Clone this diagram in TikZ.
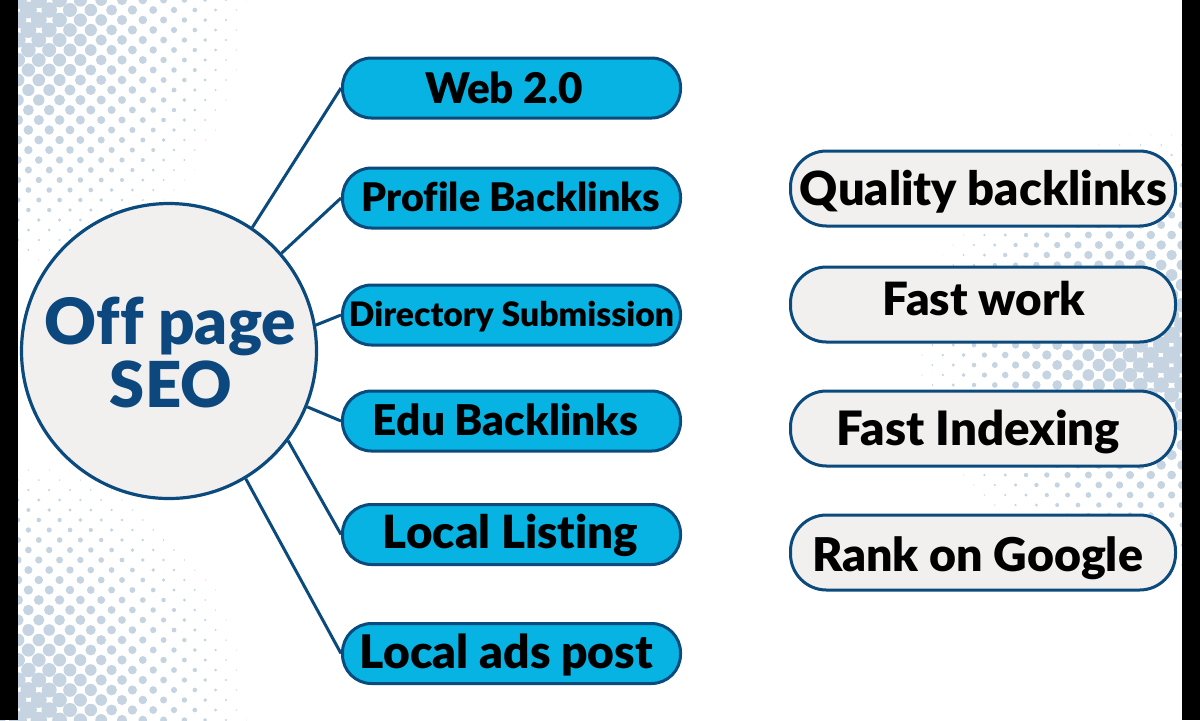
\documentclass[tikz,border=0pt]{standalone}
\usepackage{fontspec}
\setmainfont{Lato}[BoldFont={Lato Black}, Ligatures={NoCommon,NoRare,NoDiscretionary}]
\usepackage{graphicx}
\definecolor{edge}{HTML}{0B4A7C}
\definecolor{cyanbox}{HTML}{07B3E3}
\definecolor{grayfill}{HTML}{F1F0EF}
\definecolor{dotc}{HTML}{C5D4E0}
\definecolor{hubtext}{HTML}{0C477D}
\newcommand{\fw}[2]{\resizebox{#1}{!}{#2}}
\begin{document}
\begin{tikzpicture}[x=0.5pt,y=-0.5pt,
  bluebox/.style={draw=edge, line width=1.5pt, fill=cyanbox, rounded corners=14.5pt, minimum width=169pt, minimum height=30pt, inner sep=0pt},
  graybox/.style={draw=edge, line width=1.5pt, fill=grayfill, rounded corners=18pt, minimum width=192.5pt, minimum height=37.5pt, inner sep=0pt},
  hubstyle/.style={circle, draw=edge, line width=1.6pt, fill=grayfill, minimum size=147.5pt, inner sep=0pt},
  lbl/.style={anchor=base, inner sep=0pt, font=\bfseries, text=black},
  hublbl/.style={anchor=base, inner sep=0pt, font=\bfseries, text=hubtext},
  link/.style={draw=edge, line width=1.5pt}]
\useasboundingbox (0,0) rectangle (1200,720);
\fill[white] (0,0) rectangle (1200,720);
% halftone top-left
\foreach \r in {0,...,30}{
  \foreach \c in {-1,...,13}{
    \pgfmathsetmacro\xx{18+\c*20.8+mod(\r,2)*10.4}
    \pgfmathsetmacro\yy{\r*10}
    \pgfmathsetmacro\dd{sqrt(((\xx-18)/240)^2+(\yy/280)^2)}
    \pgfmathsetmacro\rr{9*(1-\dd)}
    \ifdim\rr pt>0.4pt \fill[dotc] (\xx,\yy) circle[radius=\rr];\fi
  }}
% halftone bottom-left
\foreach \r in {0,...,30}{
  \foreach \c in {-1,...,13}{
    \pgfmathsetmacro\xx{18+\c*20.8+mod(\r,2)*10.4}
    \pgfmathsetmacro\yy{720-\r*10}
    \pgfmathsetmacro\dd{sqrt(((\xx-18)/240)^2+((720-\yy)/270)^2)}
    \pgfmathsetmacro\rr{9*(1-\dd)}
    \ifdim\rr pt>0.4pt \fill[dotc] (\xx,\yy) circle[radius=\rr];\fi
  }}
% halftone right
\foreach \r in {0,...,50}{
  \foreach \c in {-1,...,15}{
    \pgfmathsetmacro\xx{1182-\c*20.8-mod(\r,2)*10.4}
    \pgfmathsetmacro\yy{355+(\r-25)*10}
    \pgfmathsetmacro\dd{sqrt(((1182-\xx)/280)^2+((\yy-355)/235)^2)}
    \pgfmathsetmacro\rr{9*(1-\dd)}
    \ifdim\rr pt>0.4pt \fill[dotc] (\xx,\yy) circle[radius=\rr];\fi
  }}
% hub
\node[hubstyle] (hub) at (169,351) {};
% left boxes
\node[bluebox] (web) at (511.5,88) {};
\node[bluebox] (profile) at (511.5,198) {};
\node[bluebox] (dir) at (511.5,315) {};
\node[bluebox] (edu) at (511.5,421) {};
\node[bluebox] (listing) at (511.5,534.5) {};
\node[bluebox] (ads) at (511.5,653.5) {};
% right boxes
\node[graybox] (quality) at (983,188.5) {};
\node[graybox] (fast) at (983,304.5) {};
\node[graybox] (index) at (983,428.5) {};
\node[graybox] (rank) at (983,552.5) {};
% connectors
\draw[link] (hub.56.4) -- (web.west);
\draw[link] (hub.41.8) -- (profile.west);
\draw[link] (hub.10.4) -- (dir.west);
\draw[link] (hub.-22) -- (edu.west);
\draw[link] (hub.-37.8) -- (listing.west);
\draw[link] (hub.-59.9) -- (ads.west);
% labels
\node[hublbl] (t1) at (170.5,344) {\fw{125.5pt}{Off page}};
\node[hublbl] (t2) at (171,407) {\fw{61pt}{SEO}};
\node[lbl] (lweb) at (504,103) {\fw{79pt}{Web 2.0}};
\node[lbl] (lprofile) at (511,211) {\fw{149pt}{Profile Backlinks}};
\node[lbl] (ldir) at (511.5,326) {\fw{162.5pt}{Directory Submission}};
\node[lbl] (ledu) at (505.5,435) {\fw{132.5pt}{Edu Backlinks}};
\node[lbl] (llisting) at (510.5,548) {\fw{127.5pt}{Local Listing}};
\node[lbl] (lads) at (506.5,668) {\fw{146.5pt}{Local ads post}};
\node[lbl] (lquality) at (983.5,205) {\fw{183.5pt}{Quality backlinks}};
\node[lbl] (lfast) at (984,315) {\fw{101pt}{Fast work}};
\node[lbl] (lindex) at (978.5,445) {\fw{141.5pt}{Fast Indexing}};
\node[lbl] (lrank) at (977.5,571) {\fw{165.5pt}{Rank on Google}};
% black side bars
\fill[black] (0,0) rectangle (18,720);
\fill[black] (1182,0) rectangle (1200,720);
\end{tikzpicture}
\end{document}
